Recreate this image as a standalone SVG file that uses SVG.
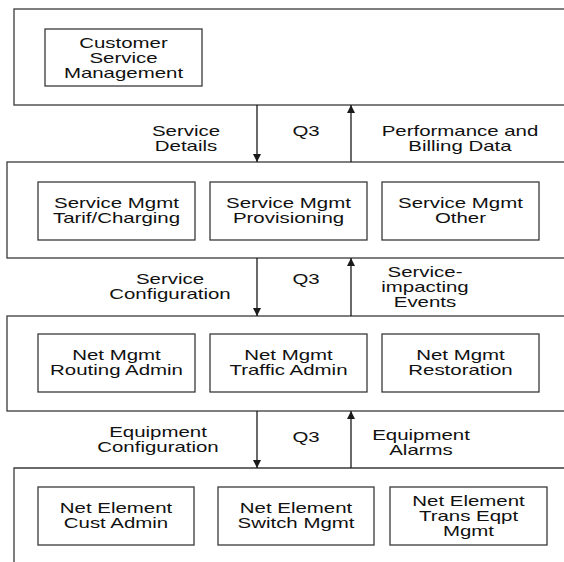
<svg xmlns="http://www.w3.org/2000/svg" width="564" height="562" viewBox="0 0 564 562">
  <defs>
    <style>
      .layer { fill: #ffffff; stroke: #3a3a3a; stroke-width: 1.3; }
      .box { fill: #ffffff; stroke: #3a3a3a; stroke-width: 1.3; }
      .flow { stroke: #1a1a1a; stroke-width: 1.3; fill: none; marker-end: url(#head); }
      text { font-family: "Liberation Sans", Arial, sans-serif; font-size: 14px; fill: #111111; text-anchor: middle; }
    </style>
    <marker id="head" viewBox="0 0 8 8" refX="8" refY="4" markerWidth="8" markerHeight="8" markerUnits="userSpaceOnUse" orient="auto">
      <path d="M0,0 L8,4 L0,8 z" fill="#1a1a1a"/>
    </marker>
  </defs>
  <rect width="564" height="562" fill="#ffffff"/>

  <!-- management layers (open to the right edge) -->
  <g id="layer-customer"><rect class="layer" x="14" y="9" width="600" height="96"/></g>
  <g id="layer-service"><rect class="layer" x="7" y="162" width="600" height="96"/></g>
  <g id="layer-network"><rect class="layer" x="7" y="316" width="600" height="95"/></g>
  <g id="layer-element"><path class="layer" d="M14,570 V468 H600"/></g>

  <!-- customer layer -->
  <g id="csm">
    <rect class="box" x="45" y="29" width="157" height="57"/>
    <text transform="translate(123.5 48) scale(1.46 1)"><tspan x="0">Customer</tspan><tspan x="0" dy="15">Service</tspan><tspan x="0" dy="15">Management</tspan></text>
  </g>

  <!-- service layer -->
  <g id="sm-tarif">
    <rect class="box" x="38" y="182" width="157" height="58"/>
    <text transform="translate(116.5 208) scale(1.46 1)"><tspan x="0">Service Mgmt</tspan><tspan x="0" dy="15">Tarif/Charging</tspan></text>
  </g>
  <g id="sm-prov">
    <rect class="box" x="210" y="182" width="157" height="58"/>
    <text transform="translate(288.5 208) scale(1.46 1)"><tspan x="0">Service Mgmt</tspan><tspan x="0" dy="15">Provisioning</tspan></text>
  </g>
  <g id="sm-other">
    <rect class="box" x="382" y="182" width="157" height="58"/>
    <text transform="translate(460.5 208) scale(1.46 1)"><tspan x="0">Service Mgmt</tspan><tspan x="0" dy="15">Other</tspan></text>
  </g>

  <!-- network layer -->
  <g id="nm-routing">
    <rect class="box" x="38" y="334" width="157" height="58"/>
    <text transform="translate(116.5 360) scale(1.46 1)"><tspan x="0">Net Mgmt</tspan><tspan x="0" dy="15">Routing Admin</tspan></text>
  </g>
  <g id="nm-traffic">
    <rect class="box" x="210" y="334" width="157" height="58"/>
    <text transform="translate(288.5 360) scale(1.46 1)"><tspan x="0">Net Mgmt</tspan><tspan x="0" dy="15">Traffic Admin</tspan></text>
  </g>
  <g id="nm-restoration">
    <rect class="box" x="382" y="334" width="157" height="58"/>
    <text transform="translate(460.5 360) scale(1.46 1)"><tspan x="0">Net Mgmt</tspan><tspan x="0" dy="15">Restoration</tspan></text>
  </g>

  <!-- element layer -->
  <g id="ne-cust">
    <rect class="box" x="38" y="487" width="156" height="58"/>
    <text transform="translate(116 513) scale(1.46 1)"><tspan x="0">Net Element</tspan><tspan x="0" dy="15">Cust Admin</tspan></text>
  </g>
  <g id="ne-switch">
    <rect class="box" x="218" y="487" width="156" height="58"/>
    <text transform="translate(296 513) scale(1.46 1)"><tspan x="0">Net Element</tspan><tspan x="0" dy="15">Switch Mgmt</tspan></text>
  </g>
  <g id="ne-trans">
    <rect class="box" x="390" y="487" width="157" height="58"/>
    <text transform="translate(468.5 506) scale(1.46 1)"><tspan x="0">Net Element</tspan><tspan x="0" dy="15">Trans Eqpt</tspan><tspan x="0" dy="15">Mgmt</tspan></text>
  </g>

  <!-- Q3 interfaces between layers -->
  <g id="connectors">
    <line class="flow" x1="257" y1="105" x2="257" y2="162"/>
    <line class="flow" x1="351" y1="162" x2="351" y2="105"/>
    <line class="flow" x1="257" y1="258" x2="257" y2="316"/>
    <line class="flow" x1="351" y1="316" x2="351" y2="258"/>
    <line class="flow" x1="257" y1="411" x2="257" y2="468"/>
    <line class="flow" x1="351" y1="468" x2="351" y2="411"/>

    <text transform="translate(186 136) scale(1.46 1)"><tspan x="0">Service</tspan><tspan x="0" dy="15">Details</tspan></text>
    <text transform="translate(306 136) scale(1.46 1)">Q3</text>
    <text transform="translate(460 136) scale(1.46 1)"><tspan x="0">Performance and</tspan><tspan x="0" dy="15">Billing Data</tspan></text>

    <text transform="translate(170 284) scale(1.46 1)"><tspan x="0">Service</tspan><tspan x="0" dy="15">Configuration</tspan></text>
    <text transform="translate(306 284) scale(1.46 1)">Q3</text>
    <text transform="translate(425 277) scale(1.46 1)"><tspan x="0">Service-</tspan><tspan x="0" dy="15">impacting</tspan><tspan x="0" dy="15">Events</tspan></text>

    <text transform="translate(158 437) scale(1.46 1)"><tspan x="0">Equipment</tspan><tspan x="0" dy="15">Configuration</tspan></text>
    <text transform="translate(306 442) scale(1.46 1)">Q3</text>
    <text transform="translate(421 440) scale(1.46 1)"><tspan x="0">Equipment</tspan><tspan x="0" dy="15">Alarms</tspan></text>
  </g>
</svg>
